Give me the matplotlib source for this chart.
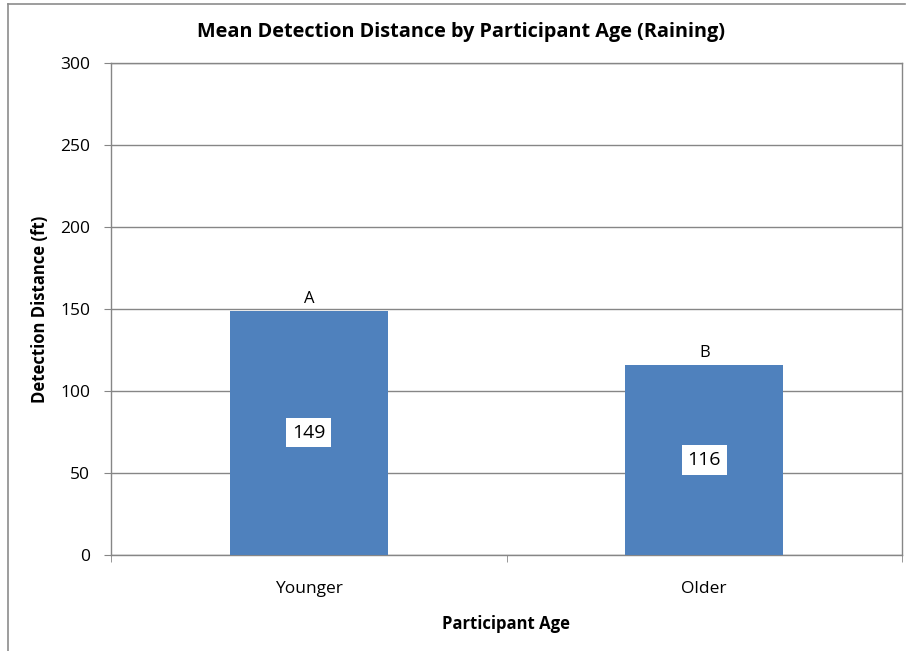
import matplotlib
matplotlib.use("Agg")
import matplotlib.pyplot as plt
from matplotlib.lines import Line2D

categories = ["Younger", "Older"]
values = [149, 116]
letters = ["A", "B"]
yticks = [0, 50, 100, 150, 200, 250, 300]

plt.rcParams['font.family'] = ['Open Sans', 'DejaVu Sans']

W, H = 906, 651
fig = plt.figure(figsize=(W / 100, H / 100), dpi=100)
ax = fig.add_axes([111 / W, 1 - 555 / H, (902 - 111) / W, (555 - 63) / H])

x = list(range(len(categories)))
bars = ax.bar(x, values, width=0.4, color="#4F81BD", zorder=3)

ax.set_xlim(-0.5, len(categories) - 0.5)
ax.set_ylim(0, 300)
ax.set_yticks(yticks)
ax.set_yticklabels([str(t) for t in yticks], fontsize=12.5)
ax.set_xticks(x)
ax.set_xticklabels(categories, fontsize=12.5)
ax.tick_params(axis='x', length=0, pad=19)
ax.tick_params(axis='y', length=5, color="#868686", pad=10)
# category boundary ticks
ax.set_xticks([-0.5, 0.5, 1.5], minor=True)
ax.tick_params(axis='x', which='minor', length=5, color="#868686")

ax.yaxis.grid(True, color="#868686", linewidth=1, zorder=0)
for s in ax.spines.values():
    s.set_color("#868686")
    s.set_linewidth(1)

for b, v, letter in zip(bars, values, letters):
    cx = b.get_x() + b.get_width() / 2
    ax.text(cx, v / 2, str(v), ha='center', va='center', fontsize=14,
            bbox=dict(facecolor='white', edgecolor='none', pad=4), zorder=4)
    ax.text(cx, v + 2, letter, ha='center', va='bottom', fontsize=12, zorder=4)

fig.text(461 / W, 1 - 32 / H,
         "Mean Detection Distance by Participant Age (Raining)",
         ha='center', va='center', fontsize=14.3, fontweight='bold')
ax.set_ylabel("Detection Distance (ft)", fontsize=12, fontweight='bold', labelpad=8)
ax.set_xlabel("Participant Age", fontsize=12, fontweight='bold', labelpad=13)

# outer chart frame
fig.add_artist(Line2D([8 / W, 8 / W], [0, 1 - 4 / H], color="#8c8c8c", lw=1.2,
                      transform=fig.transFigure))
fig.add_artist(Line2D([8 / W, 905 / W], [1 - 4 / H, 1 - 4 / H], color="#8c8c8c", lw=1.2,
                      transform=fig.transFigure))

fig.savefig("out.png", dpi=100)
